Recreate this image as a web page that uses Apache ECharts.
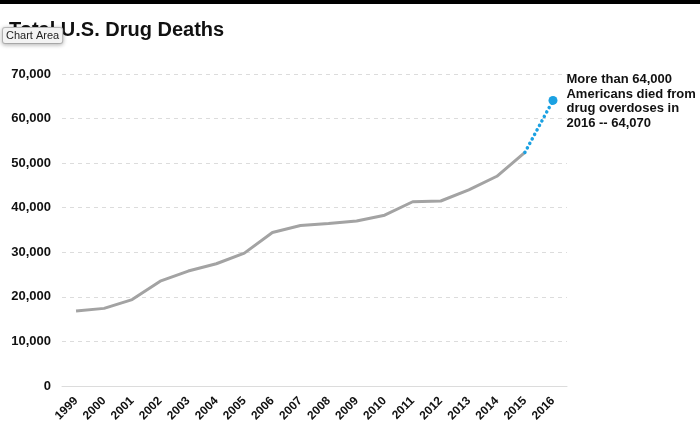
<!DOCTYPE html>
<html>
<head>
<meta charset="utf-8">
<script src="https://cdn.jsdelivr.net/npm/echarts@6/dist/echarts.min.js"></script>
<style>
  html, body { margin: 0; padding: 0; background: #fff; }
  #chart { width: 700px; height: 445px; }
</style>
</head>
<body>
<div id="chart"></div>
<script>
// data
const years = ['1999', '2000', '2001', '2002', '2003', '2004', '2005', '2006', '2007',
  '2008', '2009', '2010', '2011', '2012', '2013', '2014', '2015', '2016']
const deaths = [16849, 17415, 19394, 23518, 25785, 27424, 29813, 34425, 36010,
  36450, 37004, 38329, 41340, 41502, 43982, 47055, 52404, null]
const latest = 64070
const note = 'More than 64,000\nAmericans died from\ndrug overdoses in\n2016 -- 64,070'

const font = '"Liberation Sans", Arial, Helvetica, sans-serif'

// blue dotted piece only joins 2015 to 2016
const recent = years.map(function (y, i) {
  if (i === years.length - 2) return { value: deaths[i], symbol: 'none' }
  if (i === years.length - 1) {
    return {
      value: latest,
      symbol: 'circle',
      symbolSize: 9,
      label: {
        show: true,
        position: 'right',
        distance: 9,
        align: 'left',
        verticalAlign: 'middle',
        formatter: note,
        fontFamily: font,
        fontWeight: 'bold',
        fontSize: 13,
        lineHeight: 14.7,
        offset: [0, 1],
        color: '#111',
      },
    }
  }
  return null
})

const chart = echarts.init(document.getElementById('chart'))
chart.setOption({
  animation: false,
  backgroundColor: '#fff',
  title: {
    text: 'Total U.S. Drug Deaths',
    left: 9,
    top: 20,
    padding: 0,
    textStyle: { fontFamily: font, fontWeight: 'bold', fontSize: 20, color: '#111' },
  },
  grid: { left: 62, right: 133, top: 74, bottom: 59, containLabel: false },
  xAxis: {
    type: 'category',
    data: years,
    boundaryGap: true,
    axisLine: { lineStyle: { color: '#dcdcdc', width: 1 } },
    axisTick: { show: false },
    axisLabel: {
      rotate: 45,
      margin: 13,
      interval: 0,
      fontFamily: font,
      fontWeight: 'bold',
      fontSize: 12,
      color: '#111',
    },
  },
  yAxis: {
    type: 'value',
    min: 0,
    max: 70000,
    interval: 10000,
    axisLine: { show: false },
    axisTick: { show: false },
    splitLine: { lineStyle: { color: '#dcdcdc', type: [4, 4] } },
    axisLabel: {
      margin: 11,
      fontFamily: font,
      fontWeight: 'bold',
      fontSize: 13,
      color: '#111',
      formatter: function (v) { return v.toLocaleString('en-US') },
    },
  },
  series: [
    {
      type: 'line',
      data: deaths,
      showSymbol: false,
      lineStyle: { color: '#a3a3a3', width: 3 },
      z: 2,
    },
    {
      type: 'line',
      data: recent,
      connectNulls: false,
      lineStyle: { color: '#1ba1e2', width: 3.5, type: [0.1, 5], cap: 'round' },
      itemStyle: { color: '#1ba1e2' },
      z: 3,
    },
  ],
  graphic: [
    {
      type: 'rect',
      left: 0,
      top: 0,
      shape: { width: 700, height: 4 },
      style: { fill: '#000' },
    },
    {
      type: 'text',
      left: 2,
      top: 27,
      z: 100,
      style: {
        text: 'Chart Area',
        fontFamily: font,
        fontSize: 11,
        fill: '#222',
        backgroundColor: '#f3f3f3',
        borderColor: '#c4c4c4',
        borderWidth: 1,
        borderRadius: 2,
        padding: [2, 3, 2, 3],
        shadowColor: 'rgba(0,0,0,0.25)',
        shadowBlur: 4,
        shadowOffsetY: 1,
      },
    },
  ],
})
</script>
</body>
</html>
